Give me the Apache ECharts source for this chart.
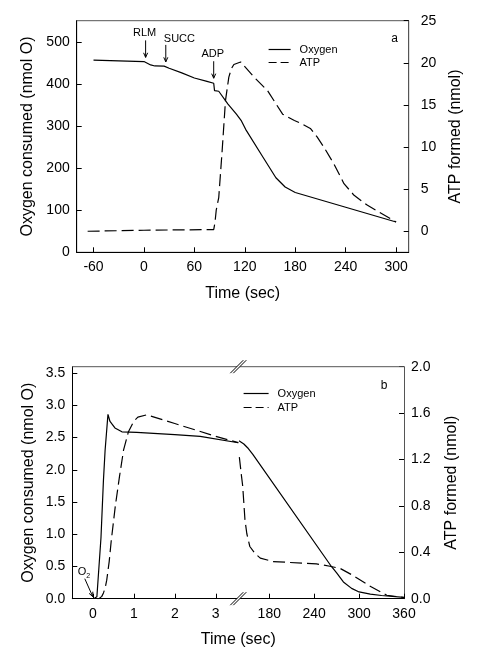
<!DOCTYPE html>
<html><head><meta charset="utf-8">
<script src="https://cdn.jsdelivr.net/npm/echarts@6/dist/echarts.min.js"></script>
<style>html,body{margin:0;padding:0;background:#fff}#c{width:485px;height:655px}</style>
</head><body><div id="c"></div>
<script>
// ---------- Panel a data ----------
const aXTicks = [-60, 0, 60, 120, 180, 240, 300];
const aO2Ticks = [0, 100, 200, 300, 400, 500];
const aAtpTicks = [0, 5, 10, 15, 20, 25];
const aO2Time = [-60, 0, 4, 8, 13, 24, 30, 45, 60, 75, 83, 84, 89, 100, 110, 116, 121, 140, 157, 168, 180, 240, 300];
const aO2Val  = [456.5, 453, 449, 445, 442.5, 442, 437, 426, 414, 406, 401.5, 384, 382.5, 352, 328, 312, 292, 231, 177, 155, 142, 107, 72];
const aAtpTime = [-67, 0, 83, 84.5, 86, 89, 93, 97, 101, 104, 107, 115, 131, 147, 165, 179, 188, 198, 206, 214, 226, 238, 250, 266, 300];
const aAtpVal  = [0, 0.12, 0.2, 1.0, 2.5, 4.0, 9.5, 15.5, 18.3, 19.3, 19.8, 20.1, 18.3, 16.7, 13.9, 13.15, 12.75, 12.2, 11.2, 10.0, 8.0, 5.65, 4.27, 3.08, 1.1];
const aEvents = ['RLM', 'SUCC', 'ADP'];
const aEventTimes = [2, 26, 83];

// ---------- Panel b data ----------
const bXTicksEarly = [0, 1, 2, 3];
const bXTicksLate = [180, 240, 300, 360];
const bO2Ticks = [0, 0.5, 1.0, 1.5, 2.0, 2.5, 3.0, 3.5];
const bAtpTicks = [0, 0.4, 0.8, 1.2, 1.6, 2.0];
const bO2TimeEarly = [0.02, 0.1, 0.2, 0.26, 0.3, 0.37, 0.42, 0.54, 0.71, 1.07, 2.0, 2.62, 3.55];
const bO2ValEarly  = [0, 0.03, 0.95, 1.84, 2.3, 2.86, 2.75, 2.65, 2.59, 2.58, 2.545, 2.52, 2.42];
const bAtpTimeEarly = [0.1, 0.15, 0.22, 0.26, 0.3, 0.34, 0.4, 0.45, 0.55, 0.65, 0.75, 0.87, 1.0, 1.1, 1.32, 2.0, 3.0, 3.55];
const bAtpValEarly  = [0, 0, 0.02, 0.05, 0.09, 0.16, 0.32, 0.5, 0.8, 1.05, 1.28, 1.44, 1.53, 1.565, 1.585, 1.51, 1.40, 1.345];
const bO2TimeLate = [139.5, 141, 146, 152, 158, 263, 270, 279, 290, 300, 315, 330, 360];
const bO2ValLate  = [2.45, 2.47, 2.40, 2.33, 2.24, 0.5, 0.4, 0.26, 0.16, 0.105, 0.07, 0.05, 0.02];
const bAtpTimeLate = [140, 143, 144.5, 147.5, 150, 154, 161, 168, 185, 243, 261, 275, 292, 314, 337, 360];
const bAtpValLate  = [1.22, 1.05, 0.97, 0.68, 0.56, 0.45, 0.39, 0.35, 0.32, 0.30, 0.28, 0.26, 0.20, 0.11, 0.03, 0.01];

const panelLabels = ['a', 'b'];
const seriesNames = ['Oxygen', 'ATP'];

const zip = (xs, ys) => xs.map((x, i) => [x, ys[i]]);
const FONT = '"Liberation Sans", Arial, sans-serif';

const A = {left: 76.7, top: 20.7, width: 332, height: 231.6};
const B1 = {left: 72.3, top: 366.7, width: 166, height: 232};
const B2 = {left: 238.3, top: 366.7, width: 165.7, height: 232};

const chart = echarts.init(document.getElementById('c'), null, {renderer: 'canvas'});

function xAx(grid, min, max, ticks) {
  return {
    type: 'value', gridIndex: grid, min: min, max: max,
    axisLine: {onZero: false, lineStyle: {color: '#000', width: 1}},
    axisTick: {inside: true, length: 5, customValues: ticks, lineStyle: {color: '#000'}},
    axisLabel: {customValues: ticks, margin: 8, color: '#000', fontSize: 14, fontFamily: FONT},
    splitLine: {show: false}
  };
}
function yAx(grid, pos, min, max, ticks, opts) {
  opts = opts || {};
  return Object.assign({
    type: 'value', gridIndex: grid, position: pos, min: min, max: max,
    axisLine: {show: true, onZero: false, lineStyle: {color: pos === 'left' ? '#000' : '#555', width: 1}},
    axisTick: {show: true, inside: true, length: 5, customValues: ticks, lineStyle: {color: '#000'}},
    axisLabel: {customValues: ticks, margin: opts.margin || 7, color: '#000', fontSize: 14, fontFamily: FONT,
      formatter: opts.fmt || (v => String(v))},
    splitLine: {show: false},
    nameLocation: 'middle', nameGap: opts.nameGap || 40,
    nameTextStyle: {fontSize: 16, color: '#000', fontFamily: FONT}
  }, opts.extra || {});
}

const lineBase = {type: 'line', symbol: 'none', showSymbol: false, animation: false, smooth: false};
const DASH = [12, 5];
const solid = {color: '#000', width: 1.2};
const dashed = {color: '#000', width: 1.2, type: DASH};

function legendFor(left, top, w, gap) {
  return {left: left, top: top, padding: 0, orient: 'vertical', itemWidth: w, itemHeight: 10, itemGap: gap,
    selectedMode: false, itemStyle: {opacity: 0},
    data: [{name: seriesNames[0], lineStyle: {type: 'solid', color: '#000', width: 1.2}},
           {name: seriesNames[1], lineStyle: {type: [8, 4], color: '#000', width: 1.2}}],
    textStyle: {fontSize: 11, color: '#000', fontFamily: FONT, padding: [0, 0, 0, 4], lineHeight: 11}};
}

const option = {
  backgroundColor: '#fff',
  animation: false,
  grid: [
    Object.assign({show: true, borderColor: '#555', borderWidth: 1, backgroundColor: 'transparent'}, A),
    Object.assign({show: false}, B1),
    Object.assign({show: false}, B2)
  ],
  xAxis: [
    Object.assign(xAx(0, -80, 315, aXTicks), {name: 'Time (sec)', nameLocation: 'middle', nameGap: 33,
      nameTextStyle: {fontSize: 16, color: '#000', fontFamily: FONT}}),
    xAx(1, -0.5, 3.55, bXTicksEarly),
    xAx(2, 138.6, 360, bXTicksLate)
  ],
  yAxis: [
    yAx(0, 'left', 0, 550, aO2Ticks, {nameGap: 40, extra: {name: 'Oxygen consumed (nmol O)'}}),
    yAx(0, 'right', -2.5, 25, aAtpTicks, {nameGap: 35, margin: 12, extra: {name: 'ATP formed (nmol)'}}),
    yAx(1, 'left', 0, 3.6, bO2Ticks, {nameGap: 36, fmt: v => v.toFixed(1), extra: {name: 'Oxygen consumed (nmol O)'}}),
    yAx(1, 'right', 0, 2.0, bAtpTicks, {extra: {show: false}}),
    yAx(2, 'left', 0, 3.6, bO2Ticks, {extra: {show: false}}),
    yAx(2, 'right', 0, 2.0, bAtpTicks, {nameGap: 40, fmt: v => v.toFixed(1), extra: {name: 'ATP formed (nmol)'}})
  ],
  legend: [legendFor(268, 44, 22, 2), legendFor(243, 388, 25, 3)],
  series: [
    Object.assign({}, lineBase, {name: seriesNames[0], xAxisIndex: 0, yAxisIndex: 0, data: zip(aO2Time, aO2Val), lineStyle: solid, itemStyle: {color: '#000'}}),
    Object.assign({}, lineBase, {name: seriesNames[1], xAxisIndex: 0, yAxisIndex: 1, data: zip(aAtpTime, aAtpVal), lineStyle: dashed, itemStyle: {color: '#000'}}),
    Object.assign({}, lineBase, {name: seriesNames[0], xAxisIndex: 1, yAxisIndex: 2, data: zip(bO2TimeEarly, bO2ValEarly), lineStyle: solid, itemStyle: {color: '#000'}}),
    Object.assign({}, lineBase, {name: seriesNames[1], xAxisIndex: 1, yAxisIndex: 3, data: zip(bAtpTimeEarly, bAtpValEarly), lineStyle: dashed, itemStyle: {color: '#000'}}),
    Object.assign({}, lineBase, {name: seriesNames[0], xAxisIndex: 2, yAxisIndex: 4, data: zip(bO2TimeLate, bO2ValLate), lineStyle: solid, itemStyle: {color: '#000'}}),
    Object.assign({}, lineBase, {name: seriesNames[1], xAxisIndex: 2, yAxisIndex: 5, data: zip(bAtpTimeLate, bAtpValLate), lineStyle: dashed, itemStyle: {color: '#000'}})
  ]
};
chart.setOption(option);

// ---------- annotations (arrows, labels, frame, axis breaks) ----------
function interp(xs, ys, t) {
  for (let i = 1; i < xs.length; i++) {
    if (t <= xs[i]) { const f = (t - xs[i - 1]) / (xs[i] - xs[i - 1]); return ys[i - 1] + f * (ys[i] - ys[i - 1]); }
  }
  return ys[ys.length - 1];
}
const g = [];
const stroke = {stroke: '#000', lineWidth: 1};
function arrow(x1, y1, x2, y2) {
  g.push({type: 'line', shape: {x1: x1, y1: y1, x2: x2, y2: y2}, style: stroke, z: 50});
  const ang = Math.atan2(y2 - y1, x2 - x1), L = 5, a = 0.42;
  g.push({type: 'polyline', shape: {points: [
    [x2 - L * Math.cos(ang - a), y2 - L * Math.sin(ang - a)], [x2, y2],
    [x2 - L * Math.cos(ang + a), y2 - L * Math.sin(ang + a)]]}, style: stroke, z: 50});
}
function text(x, y, s, opts) {
  g.push({type: 'text', x: x, y: y, z: 50, style: Object.assign({text: s, fill: '#000', font: '11px ' + FONT,
    textAlign: 'center', textVerticalAlign: 'middle'}, opts || {})});
}
aEvents.forEach((name, i) => {
  const t = aEventTimes[i];
  const p = chart.convertToPixel({xAxisIndex: 0, yAxisIndex: 0}, [t, interp(aO2Time, aO2Val, t)]);
  const tipY = p[1] - 5, topY = tipY - 17;
  arrow(p[0], topY, p[0], tipY);
  if (name === 'SUCC') text(p[0] - 2, topY - 6, name, {textAlign: 'left'});
  else text(p[0] - 1, topY - 7, name);
});
// O2 addition arrow in panel b
const o2p = chart.convertToPixel({xAxisIndex: 1, yAxisIndex: 2}, [0, 0]);
arrow(o2p[0] - 8, o2p[1] - 20, o2p[0], o2p[1] - 2);
g.push({type: 'text', x: o2p[0] - 15, y: o2p[1] - 27, z: 50, style: {
  text: '{m|O}{s|2}', fill: '#000', textVerticalAlign: 'middle',
  rich: {m: {fontSize: 11, fontFamily: FONT, fill: '#000'}, s: {fontSize: 7, fontFamily: FONT, fill: '#000', padding: [8, 0, 0, 0]}}}});
// panel letters
text(A.left + A.width - 14, A.top + 18, panelLabels[0], {font: '12px ' + FONT});
text(B2.left + B2.width - 20, B2.top + 19, panelLabels[1], {font: '12px ' + FONT});
// panel b x-axis title
text(B2.left, B1.top + B1.height + 41, 'Time (sec)', {font: '16px ' + FONT});
// panel b top frame
g.push({type: 'line', shape: {x1: B1.left, y1: B1.top, x2: B2.left + B2.width, y2: B1.top}, style: {stroke: '#555', lineWidth: 1}, z: 5});
// axis break marks
[B1.top, B1.top + B1.height].forEach(cy => {
  const cx = B2.left;
  g.push({type: 'polygon', shape: {points: [[cx - 8, cy + 6.5], [cx + 5, cy - 6.5], [cx + 8, cy - 6.5], [cx - 5, cy + 6.5]]},
    style: {fill: '#fff', stroke: null}, z: 60});
  g.push({type: 'line', shape: {x1: cx - 8, y1: cy + 6.5, x2: cx + 5, y2: cy - 6.5}, style: stroke, z: 61});
  g.push({type: 'line', shape: {x1: cx - 5, y1: cy + 6.5, x2: cx + 8, y2: cy - 6.5}, style: stroke, z: 61});
});
chart.setOption({graphic: {elements: g}});
</script>
</body></html>
